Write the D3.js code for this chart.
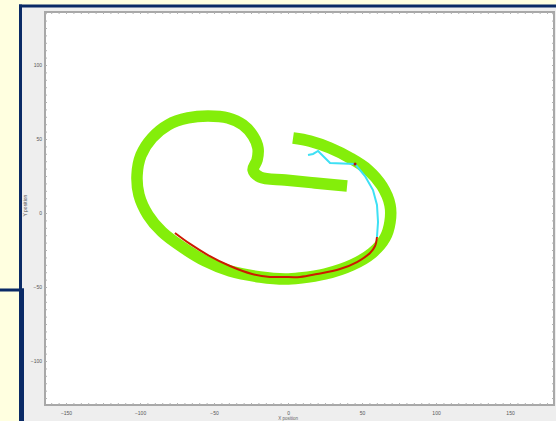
<!DOCTYPE html>
<html>
<head>
<meta charset="utf-8">
<script src="https://cdn.jsdelivr.net/npm/d3@7"></script>
<style>
  html, body { margin: 0; padding: 0; background: #ffffe0; }
  svg { display: block; }
</style>
</head>
<body>
<div id="chart"></div>
<script>
// tick labels
const xTicks = [-150, -100, -50, 0, 50, 100, 150];
const yTicks = [-100, -50, 0, 50, 100];

// green track (centre line), x / y in position units
const trackX = [3.4, 14.9, 28.4, 41.9, 54.1, 63.5, 68.9, 68.9, 65.5, 56.8, 43.2, 25.0, 8.1, -2.0, -18.9, -39.2, -56.1, -71.6, -85.1, -94.6, -100.7, -102.0, -99.3, -91.9, -81.1, -67.6, -54.1, -40.5, -30.4, -23.6, -20.3, -20.9, -23.6, -18.9, -2.0, 18.2, 39.9];
const trackY = [50.7, 48.6, 43.9, 37.2, 29.1, 18.2, 5.4, -6.1, -16.9, -27.0, -35.1, -41.2, -43.9, -44.6, -43.2, -39.2, -32.4, -23.0, -12.8, -1.4, 12.2, 25.7, 39.2, 50.7, 59.5, 64.2, 65.5, 64.2, 59.5, 52.0, 43.9, 35.8, 29.1, 24.3, 22.3, 20.3, 18.2];

// red path
const redX = [-76.4, -66.2, -54.1, -39.2, -24.3, -12.2, -3.4, 8.1, 19.6, 35.1, 46.6, 55.4, 58.8, 60.1];
const redY = [-13.5, -20.9, -28.4, -35.8, -41.2, -43.2, -43.2, -43.2, -41.2, -37.8, -33.1, -27.0, -22.3, -16.2];

// cyan path
const cyanX = [60.1, 60.8, 60.1, 57.4, 52.0, 45.3, 28.4, 20.3, 16.9, 13.5];
const cyanY = [-16.2, -6.1, 5.4, 15.5, 25.0, 33.1, 33.8, 41.9, 39.9, 39.2];

const W = 556, H = 421;
const plot = { left: 45, right: 554, top: 12, bottom: 405 };

const svg = d3.select('#chart').append('svg')
  .attr('width', W)
  .attr('height', H);

// slide background + frame
svg.append('rect').attr('width', W).attr('height', H).attr('fill', '#ffffe0');
svg.append('rect').attr('x', 21).attr('y', 6).attr('width', W - 21).attr('height', H - 6).attr('fill', '#eeeeee');
const navy = '#0a2a66';
svg.append('rect').attr('x', 19).attr('y', 4.5).attr('width', W - 19).attr('height', 3).attr('fill', navy);
svg.append('rect').attr('x', 19).attr('y', 4.5).attr('width', 3).attr('height', H).attr('fill', navy);
svg.append('rect').attr('x', 0).attr('y', 288.5).attr('width', 24).attr('height', 3).attr('fill', navy);
svg.append('rect').attr('x', 20.5).attr('y', 288.5).attr('width', 3.5).attr('height', H).attr('fill', navy);

// scales
const x = d3.scaleLinear().domain([-164.2, 179.7]).range([plot.left, plot.right]);
const y = d3.scaleLinear().domain([-129.7, 135.8]).range([plot.bottom, plot.top]);

// plot area
svg.append('rect')
  .attr('x', plot.left).attr('y', plot.top)
  .attr('width', plot.right - plot.left).attr('height', plot.bottom - plot.top)
  .attr('fill', '#ffffff')
  .attr('stroke', '#a8a8a8')
  .attr('stroke-width', 2);

// minor ticks along the frame (dotted look)
const minorX = d3.range(-160, 180, 5);
const minorY = d3.range(-125, 136, 5);
function minor(g) {
  g.select('.domain').remove();
  g.selectAll('line').attr('stroke', '#b0b0b0');
}
svg.append('g').attr('transform', `translate(0,${plot.bottom})`)
  .call(d3.axisTop(x).tickValues(minorX).tickSize(2).tickFormat('')).call(minor);
svg.append('g').attr('transform', `translate(0,${plot.top})`)
  .call(d3.axisBottom(x).tickValues(minorX).tickSize(2).tickFormat('')).call(minor);
svg.append('g').attr('transform', `translate(${plot.left},0)`)
  .call(d3.axisRight(y).tickValues(minorY).tickSize(2).tickFormat('')).call(minor);
svg.append('g').attr('transform', `translate(${plot.right},0)`)
  .call(d3.axisLeft(y).tickValues(minorY).tickSize(2).tickFormat('')).call(minor);

// labelled axes
const xAxis = svg.append('g')
  .attr('transform', `translate(0,${plot.bottom + 2})`)
  .call(d3.axisBottom(x).tickValues(xTicks).tickSize(0).tickPadding(4));
const yAxis = svg.append('g')
  .attr('transform', `translate(${plot.left - 1},0)`)
  .call(d3.axisLeft(y).tickValues(yTicks).tickSize(0).tickPadding(2));
[xAxis, yAxis].forEach(g => {
  g.select('.domain').remove();
  g.selectAll('text')
    .attr('font-family', 'Liberation Sans, Arial, sans-serif')
    .attr('font-size', '5px')
    .attr('fill', '#555');
});

// axis titles
svg.append('text')
  .attr('transform', `translate(27,${y(5)}) rotate(-90)`)
  .attr('text-anchor', 'middle')
  .attr('font-family', 'Liberation Sans, Arial, sans-serif')
  .attr('font-size', '5px')
  .attr('fill', '#555')
  .text('Y position');
svg.append('text')
  .attr('x', x(0)).attr('y', 420)
  .attr('text-anchor', 'middle')
  .attr('font-family', 'Liberation Sans, Arial, sans-serif')
  .attr('font-size', '4.5px')
  .attr('fill', '#666')
  .text('X position');

// lines
const line = d3.line()
  .x(d => x(d[0]))
  .y(d => y(d[1]))
  .curve(d3.curveCatmullRom.alpha(0.5));

svg.append('path')
  .datum(d3.zip(trackX, trackY))
  .attr('d', line)
  .attr('fill', 'none')
  .attr('stroke', '#84ee0a')
  .attr('stroke-width', 11.5)
  .attr('stroke-linejoin', 'round');

svg.append('path')
  .datum(d3.zip(redX, redY))
  .attr('d', line)
  .attr('fill', 'none')
  .attr('stroke', '#cc1a00')
  .attr('stroke-width', 2);

svg.append('path')
  .datum(d3.zip(cyanX, cyanY))
  .attr('d', d3.line().x(d => x(d[0])).y(d => y(d[1])))
  .attr('fill', 'none')
  .attr('stroke', '#3ee0f4')
  .attr('stroke-width', 2);

// marker where the cyan path turns
svg.append('circle')
  .attr('cx', x(cyanX[5])).attr('cy', y(cyanY[5]))
  .attr('r', 1.5)
  .attr('fill', '#b01010');
</script>
</body>
</html>
